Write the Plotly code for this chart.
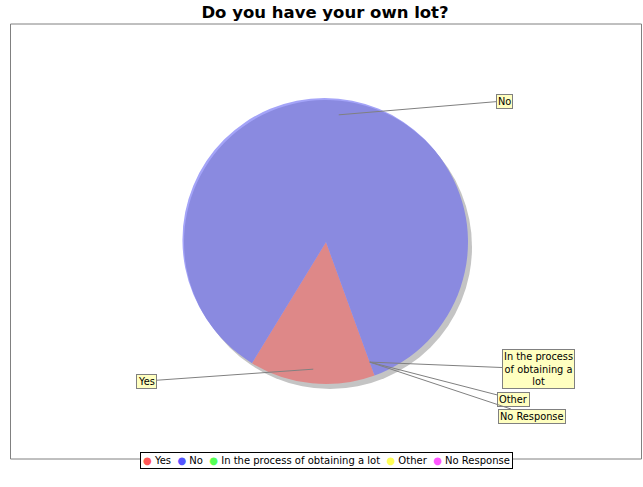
import math
import plotly.graph_objects as go

# ---- data ----
categories = ["Yes", "No", "In the process of obtaining a lot", "Other", "No Response"]
counts = [1, 6, 0, 0, 0]
slice_colors = ["#DE8888", "#8A8AE0", "#88E088", "#E0E088", "#E088E0"]
legend_colors = ["#FF5555", "#5555FF", "#55FF55", "#FFFF55", "#FF55FF"]
label_texts = ["Yes", "No", "In the process<br>of obtaining a<br>lot", "Other", "No Response"]

W, H = 643, 487
CX, CY, R = 326, 242, 142
ROT = 160  # start angle, degrees clockwise from 12 o'clock

def dom(cx, cy, r):
    return dict(x=[(cx - r) / W, (cx + r) / W], y=[1 - (cy + r) / H, 1 - (cy - r) / H])

def px_x(x):
    return x / W

def px_y(y):
    return 1 - y / H

fig = go.Figure()
# shadow
fig.add_trace(go.Pie(values=[sum(counts)], marker=dict(colors=["#C4C4C4"], line=dict(width=0)),
                     domain=dom(CX + 4, CY + 5, R), sort=False, textinfo="none",
                     hoverinfo="skip", showlegend=False))
# edge highlight
fig.add_trace(go.Pie(values=[sum(counts)], marker=dict(colors=["#A4A4F8"], line=dict(width=0)),
                     domain=dom(CX - 1.5, CY - 2, R), sort=False, textinfo="none",
                     hoverinfo="skip", showlegend=False))
# main pie
fig.add_trace(go.Pie(labels=categories, values=counts, sort=False, direction="clockwise",
                     rotation=ROT, textinfo="none", showlegend=False,
                     marker=dict(colors=slice_colors, line=dict(width=0)),
                     domain=dom(CX, CY, R)))

# label anchors computed from data
total = sum(counts)
label_pos = [(146, 381), (504, 101), (538, 369), (513, 399), (532, 416)]
annotations = []
acc = 0.0
for i, v in enumerate(counts):
    mid = ROT + (acc + v / 2) / total * 360
    acc += v
    th = math.radians(mid)
    rr = 0.9 * R
    px = CX + rr * math.sin(th)
    py = CY - rr * math.cos(th)
    lx, ly = label_pos[i]
    annotations.append(dict(
        x=px / W, y=1 - py / H, xref="paper", yref="paper",
        text=label_texts[i], showarrow=True, arrowhead=0, arrowwidth=1,
        arrowcolor="#808080", standoff=0, ax=lx - px, ay=ly - py,
        font=dict(family="DejaVu Sans", size=9.8, color="#000000"),
        bgcolor="#FFFFC0", bordercolor="#808080", borderwidth=1, borderpad=1,
        align="center"))

legend_text = "  ".join(
    f'<span style="color:{c}">●</span> {n}' for n, c in zip(categories, legend_colors))
annotations.append(dict(
    x=px_x(326), y=px_y(469), xref="paper", yref="paper", showarrow=False,
    text=legend_text, font=dict(family="DejaVu Sans", size=10, color="#000000"),
    bgcolor="#FFFFFF", bordercolor="#000000", borderwidth=1, borderpad=2))

fig.update_layout(
    width=W, height=H, margin=dict(l=0, r=0, t=0, b=0),
    paper_bgcolor="white", plot_bgcolor="white",
    title=dict(text="<b>Do you have your own lot?</b>", x=px_x(325), xanchor="center",
               y=px_y(12), yanchor="middle",
               font=dict(family="DejaVu Sans", size=16.5, color="#000000")),
    annotations=annotations,
    shapes=[dict(type="rect", xref="paper", yref="paper",
                 x0=px_x(10.5), x1=px_x(641.5), y0=px_y(459), y1=px_y(24),
                 line=dict(color="#808080", width=1))],
)

fig.write_html("out.html", config={"displayModeBar": False},
               post_script="document.body.style.margin='0px';")
